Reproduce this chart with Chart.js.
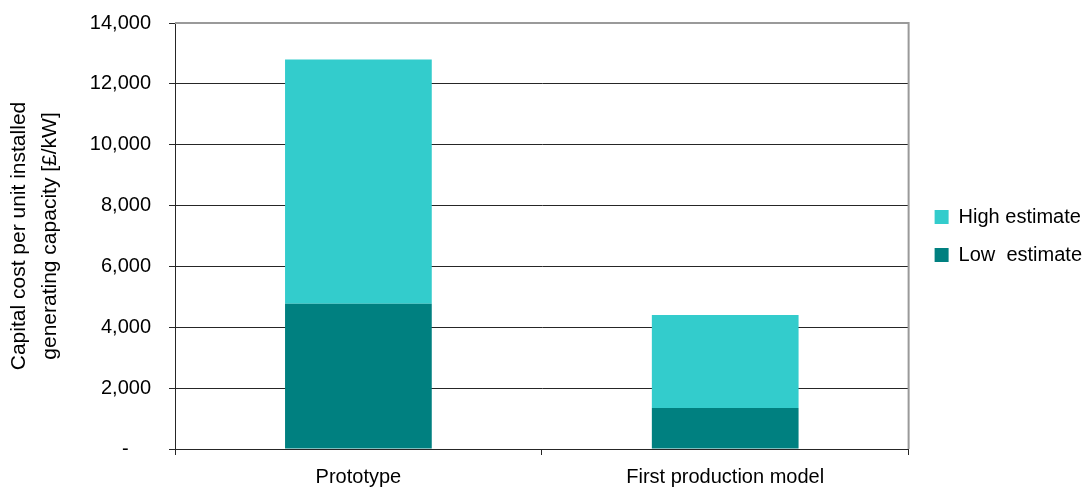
<!DOCTYPE html>
<html>
<head>
<meta charset="utf-8">
<script src="https://cdn.jsdelivr.net/npm/chart.js@4/dist/chart.umd.min.js"></script>
<style>
  html, body { margin: 0; padding: 0; background: #fff; }
  #wrap { width: 1092px; height: 493px; }
</style>
</head>
<body>
<div id="wrap"><canvas id="costChart" width="1092" height="493"></canvas></div>
<script>
// ===== Capital cost chart =====

const categories = ['Prototype', 'First production model'];
const lowEstimate = [4770, 1350];
const highEstimateExtra = [8030, 3050];   // stacked on top of the low estimate
const yTicks = [0, 2000, 4000, 6000, 8000, 10000, 12000, 14000];

const COLORS = {
  high: '#33CCCC',
  low: '#008080',
  grid: '#262626',
  frame: '#9a9a9a',
  text: '#000000',
};

Chart.defaults.font.family = '"Liberation Sans", Arial, sans-serif';
Chart.defaults.color = COLORS.text;

// grey frame on the top and right of the plot area
const framePlugin = {
  id: 'frame',
  afterDatasetsDraw(chart) {
    const { ctx, chartArea: a } = chart;
    ctx.save();
    ctx.strokeStyle = COLORS.frame;
    ctx.lineWidth = 2;
    ctx.beginPath();
    ctx.moveTo(a.left, a.top);
    ctx.lineTo(a.right, a.top);
    ctx.lineTo(a.right, a.bottom);
    ctx.stroke();
    ctx.restore();
  },
};

const ctx = document.getElementById('costChart').getContext('2d');
new Chart(ctx, {
  type: 'bar',
  data: {
    labels: categories,
    datasets: [
      {
        label: 'Low  estimate',
        data: lowEstimate,
        backgroundColor: COLORS.low,
        borderWidth: 0,
        barPercentage: 0.4,
        categoryPercentage: 1.0,
      },
      {
        label: 'High estimate',
        data: highEstimateExtra,
        backgroundColor: COLORS.high,
        borderWidth: 0,
        barPercentage: 0.4,
        categoryPercentage: 1.0,
      },
    ],
  },
  options: {
    responsive: false,
    animation: false,
    layout: { padding: { top: 23, right: 0, left: 0, bottom: 0 } },
    scales: {
      x: {
        stacked: true,
        offset: true,
        grid: {
          offset: true,
          drawOnChartArea: false,
          drawTicks: true,
          tickLength: 6,
          color: COLORS.grid,
        },
        border: { color: COLORS.grid, width: 1 },
        ticks: { font: { size: 20 }, padding: 10, color: COLORS.text },
        afterFit: (scale) => { scale.height = 44; },
      },
      y: {
        stacked: true,
        min: 0,
        max: 14000,
        afterBuildTicks: (scale) => {
          scale.ticks = yTicks.map((v) => ({ value: v }));
        },
        grid: {
          color: COLORS.grid,
          lineWidth: 1,
          tickLength: 6,
        },
        border: { color: COLORS.grid, width: 1 },
        ticks: {
          font: { size: 20 },
          padding: 18,
          color: COLORS.text,
          callback: (v) => (v === 0 ? '-    ' : v.toLocaleString('en-US')),
        },
        title: {
          display: true,
          text: ['Capital cost per unit installed', 'generating capacity [£/kW]'],
          font: { size: 21, lineHeight: 1.48 },
          padding: { top: 4, bottom: 0 },
          color: COLORS.text,
        },
        afterFit: (scale) => {
          scale.width = 175;
          scale.paddingTop = 0;
          scale.paddingBottom = 0;
        },
      },
      // empty spacer between plot area and legend
      gap: {
        type: 'linear',
        position: 'right',
        display: true,
        grid: { display: false, drawTicks: false },
        border: { display: false },
        ticks: { display: false },
        afterFit: (scale) => {
          scale.width = 8;
          scale.paddingTop = 0;
          scale.paddingBottom = 0;
        },
      },
    },
    plugins: {
      legend: {
        position: 'right',
        fullSize: false,
        reverse: true,
        labels: {
          boxWidth: 14,
          boxHeight: 14,
          padding: 18,
          font: { size: 20 },
          color: COLORS.text,
        },
      },
      tooltip: { enabled: false },
    },
  },
  plugins: [framePlugin],
});
</script>
</body>
</html>
